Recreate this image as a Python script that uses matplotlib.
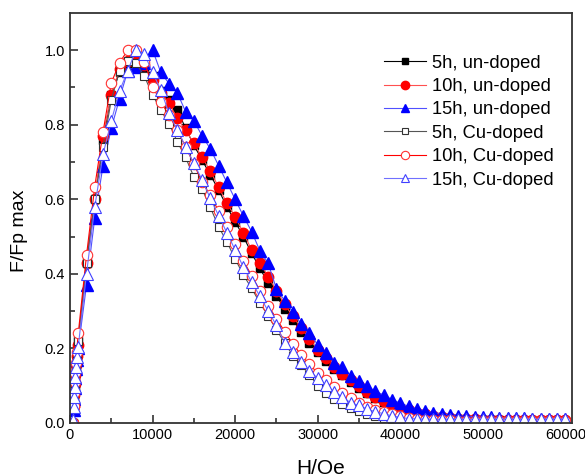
import matplotlib
matplotlib.use('Agg')
import matplotlib.pyplot as plt
from matplotlib.ticker import MultipleLocator

plt.rcParams['font.family'] = ['Liberation Sans', 'DejaVu Sans']

# field values (Oe)
H_Oe = [400, 450, 500, 550, 600, 700, 800, 1000,
        2000, 3000, 4000, 5000, 6000, 7000, 8000, 9000, 10000,
        11000, 12000, 13000, 14000, 15000, 16000, 17000, 18000, 19000, 20000,
        21000, 22000, 23000, 24000, 25000, 26000, 27000, 28000, 29000, 30000,
        31000, 32000, 33000, 34000, 35000, 36000, 37000, 38000, 39000, 40000,
        41000, 42000, 43000, 44000, 45000, 46000, 47000, 48000, 49000, 50000,
        51000, 52000, 53000, 54000, 55000, 56000, 57000, 58000, 59000, 60000]

# normalised pinning force F/Fp max
f_5h_undoped = [0.0, 0.04, 0.07, 0.1, 0.125, 0.15, 0.175, 0.22,
                0.43, 0.6, 0.76, 0.88, 0.94, 0.96, 0.97, 0.955, 0.93,
                0.89, 0.865, 0.84, 0.79, 0.745, 0.705, 0.665, 0.625, 0.58, 0.54,
                0.5, 0.455, 0.415, 0.375, 0.34, 0.307, 0.276, 0.245, 0.215, 0.19,
                0.167, 0.145, 0.128, 0.11, 0.095, 0.08, 0.067, 0.055, 0.045, 0.037,
                0.03, 0.024, 0.02, 0.016, 0.013, 0.011, 0.01, 0.009, 0.008, 0.008,
                0.007, 0.007, 0.006, 0.006, 0.006, 0.005, 0.005, 0.005, 0.005, 0.005]
f_10h_undoped = [0.0, 0.045, 0.075, 0.105, 0.13, 0.155, 0.18, 0.21,
                 0.43, 0.6, 0.77, 0.88, 0.95, 0.97, 0.975, 0.96, 0.92,
                 0.884, 0.857, 0.817, 0.785, 0.75, 0.712, 0.676, 0.632, 0.59, 0.553,
                 0.51, 0.464, 0.43, 0.392, 0.355, 0.318, 0.286, 0.255, 0.225, 0.197,
                 0.173, 0.15, 0.132, 0.114, 0.098, 0.084, 0.071, 0.059, 0.049, 0.041,
                 0.034, 0.028, 0.023, 0.019, 0.016, 0.014, 0.012, 0.011, 0.01, 0.009,
                 0.009, 0.008, 0.008, 0.008, 0.007, 0.007, 0.007, 0.007, 0.007, 0.007]
f_15h_undoped = [0.0, 0.035, 0.065, 0.095, 0.12, 0.145, 0.17, 0.2,
                 0.37, 0.55, 0.69, 0.79, 0.87, 0.945, 0.955, 0.965, 1.0,
                 0.94, 0.91, 0.885, 0.835, 0.81, 0.77, 0.735, 0.69, 0.645, 0.6,
                 0.555, 0.513, 0.462, 0.428, 0.36, 0.328, 0.297, 0.265, 0.24, 0.21,
                 0.187, 0.162, 0.15, 0.125, 0.112, 0.099, 0.085, 0.075, 0.063, 0.053,
                 0.045, 0.038, 0.032, 0.028, 0.025, 0.022, 0.02, 0.018, 0.017, 0.016,
                 0.015, 0.014, 0.014, 0.013, 0.013, 0.012, 0.012, 0.012, 0.012, 0.012]
f_5h_cu = [0.0, 0.04, 0.07, 0.1, 0.125, 0.15, 0.175, 0.22,
           0.43, 0.6, 0.74, 0.866, 0.944, 0.97, 0.965, 0.93, 0.88,
           0.839, 0.803, 0.754, 0.712, 0.66, 0.627, 0.578, 0.526, 0.486, 0.44,
           0.397, 0.361, 0.322, 0.287, 0.25, 0.215, 0.18, 0.155, 0.13, 0.1,
           0.08, 0.065, 0.052, 0.041, 0.032, 0.025, 0.019, 0.014, 0.01, 0.007,
           0.006, 0.005, 0.005, 0.004, 0.004, 0.004, 0.004, 0.004, 0.004, 0.004,
           0.004, 0.004, 0.004, 0.004, 0.004, 0.004, 0.004, 0.004, 0.004, 0.004]
f_10h_cu = [0.0, 0.045, 0.08, 0.11, 0.135, 0.16, 0.19, 0.24,
            0.45, 0.634, 0.78, 0.912, 0.966, 1.0, 1.0, 0.969, 0.902,
            0.861, 0.825, 0.785, 0.74, 0.695, 0.645, 0.611, 0.568, 0.525, 0.48,
            0.435, 0.395, 0.355, 0.315, 0.28, 0.245, 0.212, 0.182, 0.157, 0.134,
            0.114, 0.096, 0.08, 0.066, 0.054, 0.044, 0.036, 0.029, 0.023, 0.018,
            0.014, 0.011, 0.009, 0.008, 0.007, 0.007, 0.006, 0.006, 0.006, 0.006,
            0.006, 0.006, 0.006, 0.006, 0.006, 0.006, 0.006, 0.006, 0.006, 0.006]
f_15h_cu = [0.008, 0.044, 0.07, 0.097, 0.124, 0.15, 0.178, 0.205,
            0.4, 0.58, 0.72, 0.81, 0.89, 0.945, 1.0, 0.99, 0.94,
            0.893, 0.83, 0.786, 0.741, 0.696, 0.652, 0.602, 0.556, 0.51, 0.464,
            0.418, 0.378, 0.34, 0.3, 0.262, 0.215, 0.19, 0.163, 0.14, 0.12,
            0.101, 0.084, 0.07, 0.054, 0.047, 0.037, 0.03, 0.025, 0.019, 0.015,
            0.012, 0.011, 0.01, 0.01, 0.01, 0.01, 0.01, 0.01, 0.01, 0.01,
            0.01, 0.01, 0.01, 0.01, 0.01, 0.01, 0.01, 0.01, 0.01, 0.01]

labels = ['5h, un-doped', '10h, un-doped', '15h, un-doped',
          '5h, Cu-doped', '10h, Cu-doped', '15h, Cu-doped']

fig = plt.figure(figsize=(5.85, 4.76), dpi=100)
ax = fig.add_axes([70 / 585, 1 - 423 / 476, 502 / 585, 409.5 / 476])

# un-doped: filled markers
ax.plot(H_Oe, f_5h_undoped, color='black', lw=0.8, marker='s', ms=6,
        mfc='black', mec='black', label=labels[0])
ax.plot(H_Oe, f_10h_undoped, color='#ff5050', lw=0.8, marker='o', ms=7.5,
        mfc='red', mec='red', label=labels[1])
ax.plot(H_Oe, f_15h_undoped, color='#5050ff', lw=0.8, marker='^', ms=8,
        mfc='blue', mec='blue', label=labels[2])
# Cu-doped: open markers
ax.plot(H_Oe, f_5h_cu, color='#555555', lw=0.8, marker='s', ms=6,
        mfc='white', mec='#333333', mew=0.8, label=labels[3])
ax.plot(H_Oe, f_10h_cu, color='red', lw=0.8, marker='o', ms=7.5,
        mfc='white', mec='#ff3030', mew=0.8, label=labels[4])
ax.plot(H_Oe, f_15h_cu, color='#7070ff', lw=0.8, marker='^', ms=8,
        mfc='white', mec='#4040ff', mew=0.8, label=labels[5])

ax.set_xlim(0, 60800)
ax.set_ylim(0, 1.098)

ax.xaxis.set_major_locator(MultipleLocator(10000))
ax.xaxis.set_minor_locator(MultipleLocator(5000))
ax.yaxis.set_major_locator(MultipleLocator(0.2))
ax.yaxis.set_minor_locator(MultipleLocator(0.1))
ax.yaxis.set_major_formatter(plt.FormatStrFormatter('%.1f'))

ax.tick_params(which='both', direction='in', labelsize=10.5, color='#333333')
ax.tick_params(which='major', length=6, width=1.2)
ax.tick_params(which='minor', length=3.5, width=1.2)
for sp in ax.spines.values():
    sp.set_linewidth(1.3)
    sp.set_color('#333333')

ax.set_xlabel('H/Oe', fontsize=15, labelpad=12)
ax.set_ylabel('F/Fp max', fontsize=14)
ax.yaxis.set_label_coords(-0.083, 0.47)

ax.legend(loc='upper right', bbox_to_anchor=(0.997, 0.94), frameon=False,
          fontsize=13.2, handlelength=2.3, handletextpad=0.35, labelspacing=0.35,
          markerscale=0.8)

fig.savefig('out.png', dpi=100)
